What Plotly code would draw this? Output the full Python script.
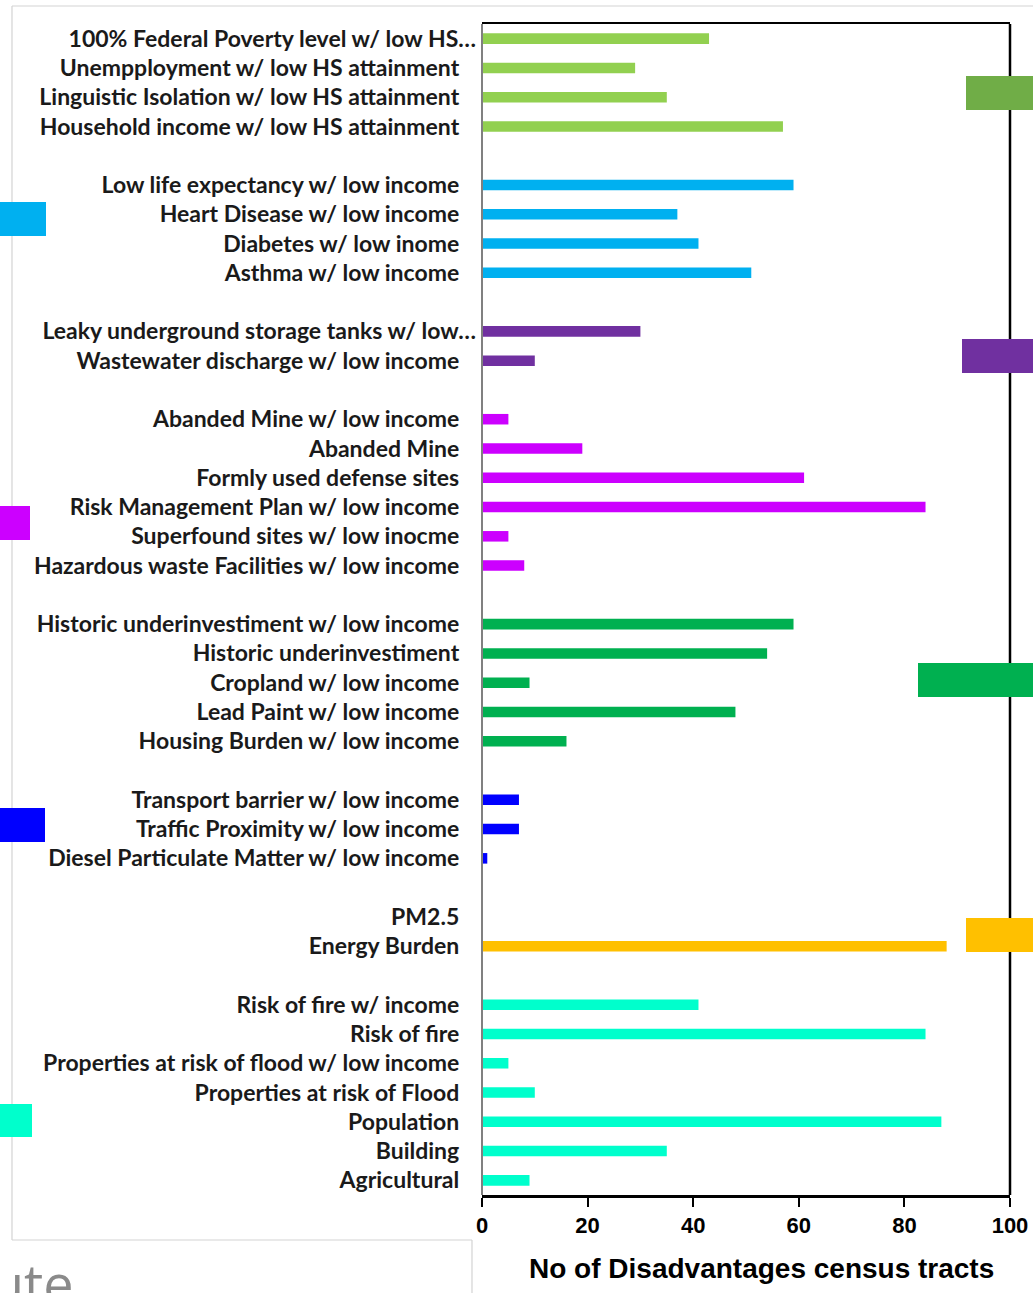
import plotly.graph_objects as go

# ---------------- data ----------------
labels_workforce = ["100% Federal Poverty level w/ low HS…", "Unempployment w/ low HS attainment",
                    "Linguistic Isolation w/ low HS attainment", "Household income w/ low HS attainment"]
values_workforce = [43, 29, 35, 57]

labels_health = ["Low life expectancy w/ low income", "Heart Disease w/ low income",
                 "Diabetes w/ low inome", "Asthma w/ low income"]
values_health = [59, 37, 41, 51]

labels_water = ["Leaky underground storage tanks w/ low…", "Wastewater discharge w/ low income"]
values_water = [30, 10]

labels_legacy = ["Abanded Mine w/ low income", "Abanded Mine", "Formly used defense sites",
                 "Risk Management Plan w/ low income", "Superfound sites w/ low inocme",
                 "Hazardous waste Facilities w/ low income"]
values_legacy = [5, 19, 61, 84, 5, 8]

labels_housing = ["Historic underinvestiment w/ low income", "Historic underinvestiment",
                  "Cropland w/ low income", "Lead Paint w/ low income", "Housing Burden w/ low income"]
values_housing = [59, 54, 9, 48, 16]

labels_transport = ["Transport barrier w/ low income", "Traffic Proximity w/ low income",
                    "Diesel Particulate Matter w/ low income"]
values_transport = [7, 7, 1]

labels_energy = ["PM2.5", "Energy Burden"]
values_energy = [0, 88]

labels_climate = ["Risk of fire w/ income", "Risk of fire", "Properties at risk of flood w/ low income",
                  "Properties at risk of Flood", "Population", "Building", "Agricultural"]
values_climate = [41, 84, 5, 10, 87, 35, 9]

group_colors = ["#92D050", "#00B0F0", "#7030A0", "#CC00FF", "#00B050", "#0000FF", "#FFC000", "#00FFCC"]
legend_colors = ["#70AD47", "#00B0F0", "#7030A0", "#CC00FF", "#00B050", "#0000FF", "#FFC000", "#00FFCC"]

x_ticks = [0, 20, 40, 60, 80, 100]
x_title = "No of Disadvantages census tracts"

groups = [
    (labels_workforce, values_workforce),
    (labels_health, values_health),
    (labels_water, values_water),
    (labels_legacy, values_legacy),
    (labels_housing, values_housing),
    (labels_transport, values_transport),
    (labels_energy, values_energy),
    (labels_climate, values_climate),
]

# ---------------- figure ----------------
W, H = 1033, 1293
L, R, T, B = 482, 1010, 24, 1195

fig = go.Figure()
tickvals, ticktext = [], []
pos = 0
for (labs, vals), col in zip(groups, group_colors):
    ys = list(range(pos, pos + len(labs)))
    fig.add_trace(go.Bar(y=ys, x=vals, orientation="h", marker=dict(color=col, line=dict(width=0)),
                         width=0.36, showlegend=False))
    tickvals += ys
    for lab in labs:
        ticktext.append(lab if lab.endswith("…") else lab + "\u00a0\u00a0\u00a0")
    pos += len(labs) + 1
last_row = tickvals[-1]


def px(x):
    return (x - L) / (R - L)


def py(y):
    return (B - y) / (B - T)


shapes = []
# outer gray frame lines (screenshot context)
gray = "#d3d3d3"
for (x0, y0, x1, y1) in [(12, 6, 1033, 6), (12, 6, 12, 1240), (12, 1240, 472, 1240), (472, 1240, 472, 1293)]:
    shapes.append(dict(type="line", xref="paper", yref="paper", x0=px(x0), y0=py(y0), x1=px(x1), y1=py(y1),
                       line=dict(color=gray, width=1.2), layer="below"))
# plot border
shapes.append(dict(type="line", xref="paper", yref="paper", x0=1, y0=0, x1=1, y1=1,
                   line=dict(color="black", width=2.5)))
shapes.append(dict(type="line", xref="paper", yref="paper", x0=0, y0=0, x1=0, y1=1,
                   line=dict(color="#808080", width=2)))
# cropped legend swatches
rects = [(966, 76, 1033, 110), (0, 202, 46, 236), (962, 339, 1033, 373), (0, 506, 30, 540),
         (918, 663, 1033, 697), (0, 808, 45, 842), (966, 918, 1033, 952), (0, 1104, 32, 1137)]
for (x0, y0, x1, y1), col in zip(rects, legend_colors):
    shapes.append(dict(type="rect", xref="paper", yref="paper", x0=px(x0), y0=py(y1), x1=px(x1), y1=py(y0),
                       fillcolor=col, line=dict(width=0), layer="above"))

annotations = [
    dict(text="<b>" + x_title + "</b>", xref="paper", yref="paper", x=px(761), y=py(1268),
         xanchor="center", yanchor="middle", showarrow=False,
         font=dict(family="Liberation Sans Narrow, Liberation Sans, Arial", size=28, color="black")),
    dict(text="ute", xref="paper", yref="paper", x=px(76), y=py(1244), xanchor="right", yanchor="top",
         showarrow=False, font=dict(family="Open Sans", size=54, color="#8a8a8a")),
]

fig.update_layout(
    width=W, height=H,
    margin=dict(l=L, r=W - R, t=T, b=H - B, pad=0, autoexpand=False),
    plot_bgcolor="white", paper_bgcolor="white",
    shapes=shapes, annotations=annotations,
    xaxis=dict(range=[0, 100], tickvals=x_ticks, showgrid=False, zeroline=False, automargin=False,
               showline=True, linecolor="black", linewidth=2.5, mirror=True,
               ticks="outside", ticklen=9, tickwidth=2, tickcolor="black",
               tickfont=dict(family="Liberation Sans Narrow, Liberation Sans, Arial", size=22,
                             color="black", weight="bold")),
    yaxis=dict(range=[last_row + 0.5, -0.5], tickvals=tickvals, ticktext=ticktext, automargin=False,
               showgrid=False, zeroline=False, showline=False, ticks="", ticklabelstandoff=5,
               tickfont=dict(family="Lato", size=23, color="#1a1a1a", weight="bold")),
)

fig.write_html(
    "out.html",
    config={"displayModeBar": False, "staticPlot": True},
    post_script=("document.documentElement.style.margin='0';document.documentElement.style.overflow='hidden';"
                 "document.body.style.margin='0';document.body.style.overflow='hidden';"),
)
